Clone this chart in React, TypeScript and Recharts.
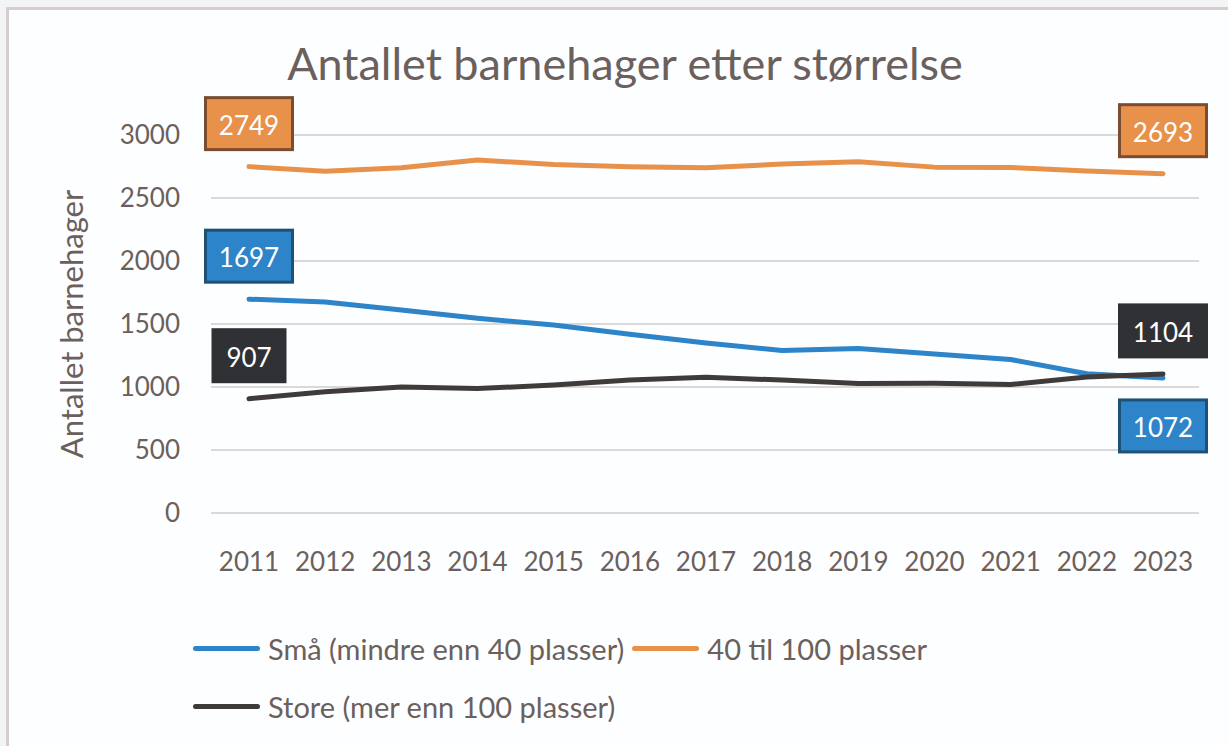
import { LineChart, Line, XAxis, YAxis, CartesianGrid, Legend, LabelList } from "recharts";

// years on the x axis
const years = ["2011", "2012", "2013", "2014", "2015", "2016", "2017", "2018", "2019", "2020", "2021", "2022", "2023"];

// values (only first/last are printed there)
const sma = [1697, 1675, 1611, 1545, 1492, 1418, 1350, 1290, 1305, 1262, 1218, 1105, 1072];
const mellom = [2749, 2712, 2740, 2802, 2765, 2748, 2740, 2770, 2787, 2745, 2742, 2715, 2693];
const store = [907, 962, 1000, 988, 1015, 1055, 1078, 1055, 1028, 1030, 1020, 1080, 1104];

const yTicks = [0, 500, 1000, 1500, 2000, 2500, 3000];

const data = years.map((year, i) => ({ year, sma: sma[i], mellom: mellom[i], store: store[i] }));

const FONT = "Lato, 'Open Sans', sans-serif";
const TEXT = "#6b605c";

const series = [
  { key: "sma", name: "Små (mindre enn 40 plasser)", color: "#2d84c8", box: "#2d84c8", edge: "#1d5176", lastBelow: true },
  { key: "mellom", name: "40 til 100 plasser", color: "#e8914a", box: "#e8914a", edge: "#7a4c30", lastBelow: false },
  { key: "store", name: "Store (mer enn 100 plasser)", color: "#403b3b", box: "#2f3135", edge: "#2f3135", lastBelow: false },
];

const makeBoxLabel = (box: string, edge: string, lastBelow: boolean) => (props: any) => {
  const { x, y, value, index } = props;
  const last = years.length - 1;
  if (index !== 0 && index !== last) return null;
  const w = String(value).length * 15 + 27;
  const h = 52;
  const below = index === last && lastBelow;
  const top = below ? y + 22 : y - 17 - h;
  return (
    <g>
      <rect x={x - w / 2} y={top} width={w} height={h} fill={box} stroke={edge} strokeWidth={3} />
      <text x={x} y={top + h / 2 + 1} fill="#fff" fontSize={26} fontFamily={FONT} textAnchor="middle" dominantBaseline="central">
        {value}
      </text>
    </g>
  );
};

const LegendBox = () => (
  <div style={{ display: "flex", flexWrap: "wrap", width: 770, rowGap: 26, fontFamily: FONT, fontSize: 29, color: TEXT }}>
    {series.map((s) => (
      <div key={s.key} style={{ display: "flex", alignItems: "center", marginRight: 8, height: 32, whiteSpace: "nowrap" }}>
        <span style={{ display: "inline-block", width: 67, height: 5, borderRadius: 3, background: s.color, marginRight: 8 }} />
        <span>{s.name}</span>
      </div>
    ))}
  </div>
);

export default function App() {
  return (
    <div style={{ position: "absolute", top: 0, left: 0, width: 1228, height: 746, background: "#f3f4f6", overflow: "hidden" }}>
      <div style={{ position: "absolute", left: 6, top: 7, width: 1240, height: 760, border: "3px solid #d6cece", background: "#fdfeff" }} />

      {/* Title */}
      <div
        style={{
          position: "absolute",
          top: 36,
          left: 0,
          width: 1250,
          textAlign: "center",
          fontFamily: FONT,
          fontSize: 45,
          color: TEXT,
          lineHeight: "54px",
        }}
      >
        Antallet barnehager etter størrelse
      </div>

      <div style={{ position: "absolute", top: 0, left: 0 }}>
        <LineChart width={1228} height={746} data={data} margin={{ top: 135, right: 29, left: 0, bottom: 0 }}>
          <CartesianGrid vertical={false} stroke="#dcd8d8" strokeWidth={2} />
          <XAxis
            dataKey="year"
            axisLine={false}
            tickLine={false}
            tickSize={0}
            tickMargin={40}
            height={233}
            padding={{ left: 38, right: 36 }}
            tick={{ fontSize: 26, fill: TEXT, fontFamily: FONT }}
            interval={0}
          />
          <YAxis
            domain={[0, 3000]}
            ticks={yTicks}
            width={211}
            axisLine={false}
            tickLine={false}
            tickSize={0}
            tickMargin={31}
            tick={{ fontSize: 26, fill: TEXT, fontFamily: FONT }}
            label={{
              value: "Antallet barnehager",
              angle: -90,
              position: "insideLeft",
              offset: 72,
              style: { textAnchor: "middle", fontSize: 31, fill: TEXT, fontFamily: FONT },
            }}
          />
          <Legend
            layout="horizontal"
            verticalAlign="middle"
            align="center"
            content={() => <LegendBox />}
            wrapperStyle={{ top: 632, left: 193, width: 770 }}
          />
          {series.map((s) => (
            <Line
              key={s.key}
              type="linear"
              dataKey={s.key}
              name={s.name}
              stroke={s.color}
              strokeWidth={5}
              strokeLinecap="round"
              strokeLinejoin="round"
              dot={false}
              activeDot={false}
              isAnimationActive={false}
            >
              <LabelList dataKey={s.key} content={makeBoxLabel(s.box, s.edge, s.lastBelow)} />
            </Line>
          ))}
        </LineChart>
      </div>
    </div>
  );
}
